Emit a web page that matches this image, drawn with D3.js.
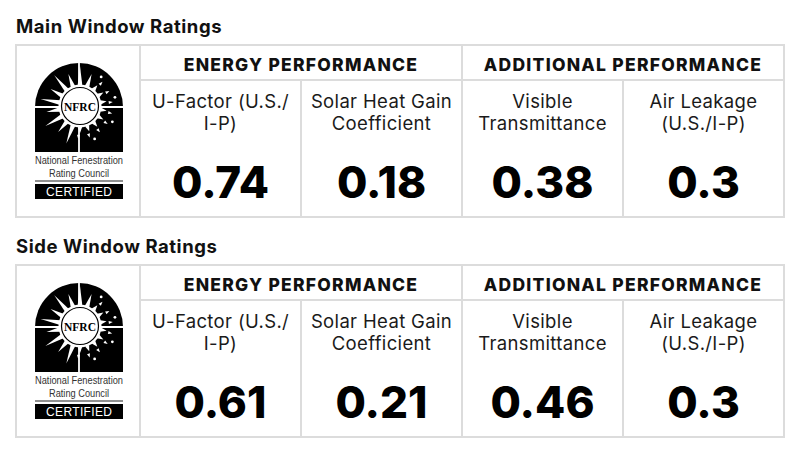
<!DOCTYPE html>
<html lang="en">
<head>
<meta charset="UTF-8">
<title>Window Ratings</title>
<style>
    body { margin: 0; background: #fff; }
    svg text { font-family: Inter, "Noto Sans", sans-serif; fill: #111; }
    .title { font-size: 18.5px; font-weight: 700; letter-spacing: 0.55px; }
    .group { font-size: 17.5px; font-weight: 800; letter-spacing: 1.25px; text-anchor: middle; }
    .label { font-size: 18.5px; font-weight: 400; letter-spacing: 0.35px; text-anchor: middle; fill: #1a1a1a; }
    .value { font-size: 44px; font-weight: 800; text-anchor: middle; fill: #000; }
    .grid { stroke: #dcdcdc; stroke-width: 2; fill: none; }
</style>
</head>
<body>
<svg id="chart" width="800" height="453"></svg>
<script src="https://d3js.org/d3.v7.min.js"></script>
<script>
var panels = ["Main Window Ratings", "Side Window Ratings"];
var groups = ["ENERGY PERFORMANCE", "ADDITIONAL PERFORMANCE"];
var metrics = ["U-Factor", "SHGC", "Visible Transmittance", "Air Leakage"];
var metricLabels = [
    ["U-Factor (U.S./", "I-P)"],
    ["Solar Heat Gain", "Coefficient"],
    ["Visible", "Transmittance"],
    ["Air Leakage", "(U.S./I-P)"]
];
var mainValues = [0.74, 0.18, 0.38, 0.3];
var sideValues = [0.61, 0.21, 0.46, 0.3];
var panelValues = [mainValues, sideValues];

var svg = d3.select("#chart");

var boxLeft = 16, boxRight = 784, logoRight = 140,
    boxHeight = 172, headHeight = 35;

// panels stacked vertically
var py = d3.scaleBand().domain(panels).range([45, 485]).paddingInner(0);

// metric columns
var x = d3.scaleBand().domain(metrics).range([logoRight, boxRight]);

var panel = svg.selectAll("g.panel")
    .data(panels)
    .enter().append("g")
    .attr("class", "panel")
    .attr("transform", function(d) { return "translate(0," + py(d) + ")"; });

panel.append("text")
    .attr("class", "title")
    .attr("x", boxLeft)
    .attr("y", -12)
    .text(function(d) { return d; });

// outer box
panel.append("rect")
    .attr("class", "grid")
    .attr("x", boxLeft).attr("y", 0)
    .attr("width", boxRight - boxLeft).attr("height", boxHeight);

// header divider
panel.append("line")
    .attr("class", "grid")
    .attr("x1", logoRight).attr("x2", boxRight)
    .attr("y1", headHeight).attr("y2", headHeight);

// vertical dividers
panel.selectAll("line.col")
    .data(metrics)
    .enter().append("line")
    .attr("class", "grid col")
    .attr("x1", function(d) { return x(d); })
    .attr("x2", function(d) { return x(d); })
    .attr("y1", function(d, i) { return i % 2 === 0 ? 0 : headHeight; })
    .attr("y2", boxHeight);

// group headers
panel.selectAll("text.group")
    .data(groups)
    .enter().append("text")
    .attr("class", "group")
    .attr("x", function(d, i) { return x(metrics[i * 2]) + x.bandwidth(); })
    .attr("y", 25.5)
    .text(function(d) { return d; });

// metric cells
var cell = panel.selectAll("g.cell")
    .data(function(d, pi) {
        return metrics.map(function(m, i) {
            return { metric: m, label: metricLabels[i], value: panelValues[pi][i] };
        });
    })
    .enter().append("g")
    .attr("class", "cell")
    .attr("transform", function(d) { return "translate(" + (x(d.metric) + x.bandwidth() / 2) + ",0)"; });

cell.selectAll("text.label")
    .data(function(d) { return d.label; })
    .enter().append("text")
    .attr("class", "label")
    .attr("y", function(d, i) { return 62.5 + i * 22; })
    .text(function(d) { return d; });

cell.append("text")
    .attr("class", "value")
    .attr("y", 153)
    .text(function(d) { return String(d.value); });

// NFRC logo
function drawLogo(g) {
    var l = 19, r = 107, top = 18, bottom = 107, cx = 63, cy = 62, rad = 44;
    var sx = 64, sy = 61;

    g.append("path")
        .attr("d", "M" + l + "," + bottom + "L" + l + "," + cy +
            "A" + rad + "," + rad + " 0 0 1 " + r + "," + cy +
            "L" + r + "," + bottom + "Z")
        .attr("fill", "#000");

    function tri(a, r0, r1, half) {
        var t = a * Math.PI / 180, w = half * Math.PI / 180;
        var p = [
            [sx + r0 * Math.cos(t - w), sy + r0 * Math.sin(t - w)],
            [sx + r1 * Math.cos(t), sy + r1 * Math.sin(t)],
            [sx + r0 * Math.cos(t + w), sy + r0 * Math.sin(t + w)]
        ];
        g.append("path").attr("d", "M" + p.join("L") + "Z").attr("fill", "#fff");
    }

    var rays = d3.range(18).map(function(i) { return i * 20 - 90; });
    rays.forEach(function(a, i) {
        var sparkle = a > -65 && a < 95;
        var len = i % 2 === 0 ? 40 : 34;
        if (!sparkle) {
            tri(a, 20, len, 7);
        } else {
            tri(a, 21, 27, 6);
            tri(a + 3, 29, 33, 3);
            if (i % 2 === 0) {
                g.append("circle")
                    .attr("cx", sx + 36 * Math.cos((a - 4) * Math.PI / 180))
                    .attr("cy", sy + 36 * Math.sin((a - 4) * Math.PI / 180))
                    .attr("r", 1.4).attr("fill", "#fff");
            }
        }
    });

    g.append("line").attr("x1", cx).attr("x2", cx).attr("y1", top).attr("y2", bottom)
        .attr("stroke", "#fff").attr("stroke-width", 1.8);
    g.append("line").attr("x1", l).attr("x2", r).attr("y1", cy).attr("y2", cy)
        .attr("stroke", "#fff").attr("stroke-width", 1.8);

    g.append("circle").attr("cx", sx).attr("cy", sy).attr("r", 21.5).attr("fill", "#fff");
    g.append("circle").attr("cx", sx).attr("cy", sy).attr("r", 18.5)
        .attr("fill", "none").attr("stroke", "#000").attr("stroke-width", 1.2);
    g.append("text")
        .attr("x", sx).attr("y", sy + 4.5)
        .attr("text-anchor", "middle")
        .attr("textLength", 32).attr("lengthAdjust", "spacingAndGlyphs")
        .style("font-family", "'Liberation Serif', serif")
        .style("font-weight", 700).style("font-size", "13px").style("fill", "#000")
        .text("NFRC");

    g.append("text")
        .attr("x", cx).attr("y", 118.5)
        .attr("text-anchor", "middle")
        .attr("textLength", 88).attr("lengthAdjust", "spacingAndGlyphs")
        .style("font-family", "'Liberation Sans', sans-serif")
        .style("font-size", "11px").style("fill", "#333")
        .text("National Fenestration");
    g.append("text")
        .attr("x", cx).attr("y", 131.5)
        .attr("text-anchor", "middle")
        .attr("textLength", 60).attr("lengthAdjust", "spacingAndGlyphs")
        .style("font-family", "'Liberation Sans', sans-serif")
        .style("font-size", "11px").style("fill", "#333")
        .text("Rating Council");
    g.append("line").attr("x1", l).attr("x2", r).attr("y1", 136).attr("y2", 136)
        .attr("stroke", "#222").attr("stroke-width", 1.2);
    g.append("rect").attr("x", l).attr("y", 139).attr("width", r - l).attr("height", 15)
        .attr("fill", "#000");
    g.append("text")
        .attr("x", cx).attr("y", 151)
        .attr("text-anchor", "middle")
        .attr("textLength", 66).attr("lengthAdjust", "spacing")
        .style("font-family", "'Liberation Sans', sans-serif")
        .style("font-size", "12px").style("fill", "#fff")
        .text("CERTIFIED");
}

panel.append("g")
    .attr("transform", "translate(" + boxLeft + ",0)")
    .each(function() { drawLogo(d3.select(this)); });
</script>
</body>
</html>
